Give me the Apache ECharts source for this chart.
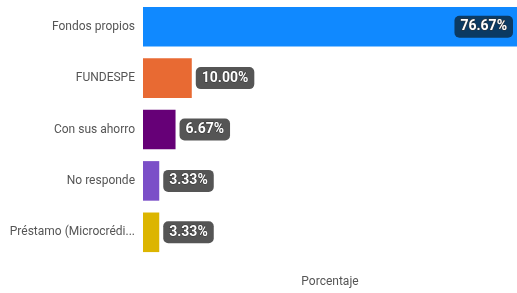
<!DOCTYPE html>
<html>
<head>
<meta charset="utf-8">
<script src="https://cdn.jsdelivr.net/npm/echarts@6/dist/echarts.min.js"></script>
<style>
  html, body { margin: 0; padding: 0; background: #fff; }
  #chart { width: 517px; height: 293px; }
</style>
</head>
<body>
<div id="chart"></div>
<script>
// categories top to bottom
const categories = ["Fondos propios", "FUNDESPE", "Con sus ahorro", "No responde", "Préstamo (Microcrédito bancario)"];
const values = [76.67, 10.0, 6.67, 3.33, 3.33];
const colors = ["#1089ff", "#e86a33", "#660077", "#7b4fc8", "#dcb500"];

const chart = echarts.init(document.getElementById("chart"));

const option = {
  animation: false,
  grid: {
    left: 143,
    top: 1,
    width: 383,
    height: 260,
  },
  xAxis: {
    type: "value",
    min: 0,
    max: 76.67,
    name: "Porcentaje",
    nameLocation: "middle",
    nameGap: 18,
    nameTextStyle: { color: "#555", fontSize: 12, fontFamily: "Roboto" },
    axisLine: { show: false },
    axisTick: { show: false },
    axisLabel: { show: false },
    splitLine: { show: false },
  },
  yAxis: {
    type: "category",
    inverse: true,
    data: categories,
    axisLine: { show: false },
    axisTick: { show: false },
    axisLabel: {
      color: "#555",
      fontSize: 12,
      fontFamily: "Roboto",
      margin: 8,
      width: 136,
      overflow: "truncate",
    },
  },
  series: [
    {
      type: "bar",
      barCategoryGap: "23%",
      data: values.map((v, i) => {
        const big = i == 0;
        return {
          value: v,
          itemStyle: { color: colors[i] },
          label: {
            show: true,
            position: big ? "insideRight" : "right",
            distance: 4,
            formatter: (p) => p.value.toFixed(2) + "%",
            color: "#fff",
            fontSize: 14,
            fontWeight: "bold",
            fontFamily: "Roboto",
            textBorderColor: "#333",
            textBorderWidth: 1,
            backgroundColor: big ? "#0b3a63" : "#555",
            borderRadius: 5,
            padding: [4, 6, 4, 6],
          },
        };
      }),
    },
  ],
};

chart.setOption(option);
</script>
</body>
</html>
